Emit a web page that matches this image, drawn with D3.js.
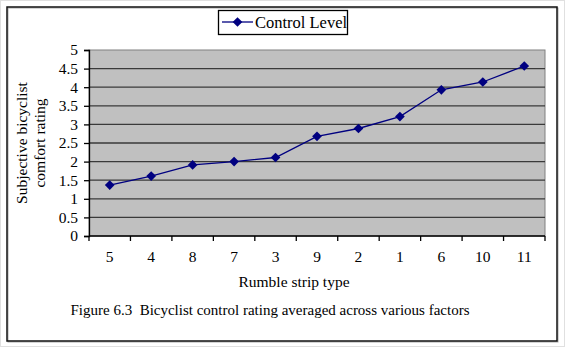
<!DOCTYPE html>
<html>
<head>
<meta charset="utf-8">
<script src="https://cdn.jsdelivr.net/npm/d3@7"></script>
<style>
  html, body { margin: 0; padding: 0; background: #fff; }
  svg { display: block; }
  svg text { font-family: "Liberation Serif", "Times New Roman", Tinos, "DejaVu Serif", serif; white-space: pre; }
</style>
</head>
<body>
<svg id="chart" width="565" height="347"></svg>
<script>
// Rumble strip types, ordered by rating
const stripTypes = ["5", "4", "8", "7", "3", "9", "2", "1", "6", "10", "11"];
// Average subjective control rating for each strip type
const controlLevel = [1.37, 1.61, 1.91, 2.0, 2.11, 2.68, 2.89, 3.21, 3.93, 4.14, 4.57];
const yTicks = [0, 0.5, 1, 1.5, 2, 2.5, 3, 3.5, 4, 4.5, 5];
const seriesName = "Control Level";
const xTitle = "Rumble strip type";
const yTitleLines = ["Subjective bicyclist", "comfort rating"];
const caption = "Figure 6.3  Bicyclist control rating averaged across various factors";

const SERIF = "Liberation Serif, Times New Roman, serif";
const svg = d3.select("#chart").attr("font-family", SERIF);
const W = 565, H = 347;
const plot = { left: 89, top: 50, right: 545, bottom: 236 };
const navy = "#000080";

// outer light border and black frame
svg.append("rect").attr("x", 0.5).attr("y", 0.5).attr("width", W - 1).attr("height", H - 1)
  .attr("fill", "#fff").attr("stroke", "#e0e0e0");
svg.append("rect").attr("x", 8).attr("y", 8).attr("width", 550).attr("height", 334)
  .attr("fill", "none").attr("stroke", "#aaa").attr("stroke-width", 1);
svg.append("rect").attr("x", 7).attr("y", 7).attr("width", 550).attr("height", 334)
  .attr("fill", "none").attr("stroke", "#111").attr("stroke-width", 1.5);

const x = d3.scaleBand().domain(stripTypes).range([plot.left, plot.right]);
const y = d3.scaleLinear().domain([0, 5]).range([plot.bottom, plot.top]);

// plot area
svg.append("rect")
  .attr("x", plot.left).attr("y", plot.top)
  .attr("width", plot.right - plot.left).attr("height", plot.bottom - plot.top)
  .attr("fill", "#c0c0c0").attr("stroke", "#808080").attr("stroke-width", 1);

// horizontal gridlines
svg.append("g").selectAll("line").data(yTicks.filter(d => d > 0 && d < 5)).join("line")
  .attr("x1", plot.left).attr("x2", plot.right)
  .attr("y1", d => y(d)).attr("y2", d => y(d))
  .attr("stroke", "#3a3a3a").attr("stroke-width", 1.3);

// y axis
const yAxis = svg.append("g").attr("transform", `translate(${plot.left},0)`)
  .call(d3.axisLeft(y).tickValues(yTicks).tickSize(5).tickPadding(6).tickFormat(d => String(d)))
  .attr("font-family", SERIF);
yAxis.select(".domain").attr("stroke", "#000").attr("stroke-width", 1.3);
yAxis.selectAll(".tick line").attr("stroke", "#000").attr("stroke-width", 1.3);
yAxis.selectAll("text").attr("font-size", 15.5).attr("fill", "#000");

// x axis: ticks at category boundaries, labels centred in bands
const xAxisG = svg.append("g").attr("transform", `translate(0,${plot.bottom})`);
xAxisG.append("line").attr("x1", plot.left).attr("x2", plot.right)
  .attr("stroke", "#000").attr("stroke-width", 1.3);
const bounds = stripTypes.map(d => x(d)).concat([plot.right]);
xAxisG.selectAll("line.tk").data(bounds).join("line").attr("class", "tk")
  .attr("x1", d => d).attr("x2", d => d).attr("y1", 0).attr("y2", 5)
  .attr("stroke", "#000").attr("stroke-width", 1.3);
xAxisG.selectAll("text").data(stripTypes).join("text")
  .attr("x", d => x(d) + x.bandwidth() / 2).attr("y", 26)
  .attr("text-anchor", "middle").attr("font-size", 15.5).text(d => d);

// series line and diamond markers
const pts = stripTypes.map((d, i) => [x(d) + x.bandwidth() / 2, y(controlLevel[i])]);
svg.append("path").attr("d", d3.line()(pts))
  .attr("fill", "none").attr("stroke", navy).attr("stroke-width", 1.3);
const diamond = d3.symbol().type(d3.symbolDiamond2).size(60);
svg.append("g").selectAll("path").data(pts).join("path")
  .attr("transform", d => `translate(${d[0]},${d[1]})`)
  .attr("d", diamond()).attr("fill", navy);

// legend
const lg = svg.append("g");
lg.append("rect").attr("x", 218.5).attr("y", 10.5).attr("width", 129).attr("height", 24)
  .attr("fill", "#fff").attr("stroke", "#000").attr("stroke-width", 1.3);
lg.append("line").attr("x1", 222).attr("x2", 253).attr("y1", 22).attr("y2", 22)
  .attr("stroke", navy).attr("stroke-width", 1.3);
lg.append("path").attr("transform", "translate(237.5,22)").attr("d", diamond()).attr("fill", navy);
lg.append("text").attr("x", 255).attr("y", 28).attr("font-size", 16.5).text(seriesName);

// axis titles
const yt = svg.append("text").attr("transform", "translate(0,143) rotate(-90)")
  .attr("text-anchor", "middle").attr("font-size", 15.5);
yt.selectAll("tspan").data(yTitleLines).join("tspan")
  .attr("x", 0).attr("y", (d, i) => 27 + i * 18).text(d => d);

svg.append("text").attr("x", 294).attr("y", 287).attr("text-anchor", "middle")
  .attr("font-size", 15.5).text(xTitle);

svg.append("text").attr("x", 270).attr("y", 315).attr("text-anchor", "middle")
  .attr("font-size", 15).attr("xml:space", "preserve").text(caption);
</script>
</body>
</html>
